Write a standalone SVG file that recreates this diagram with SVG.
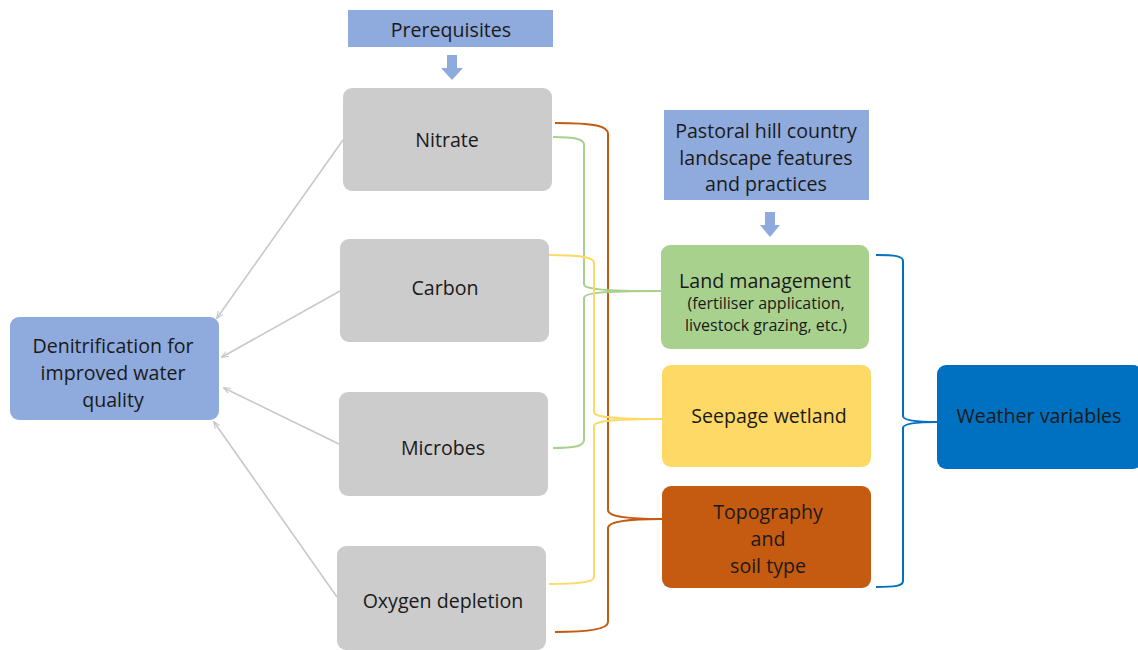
<svg xmlns="http://www.w3.org/2000/svg" width="1138" height="650" viewBox="0 0 1138 650">
<defs>
<style>
text{font-family:"Open Sans","Liberation Sans",sans-serif;fill:#1a1a1a;text-anchor:middle;dominant-baseline:central}
.t{font-size:19.6px}
.s{font-size:16px}
.gray{fill:#cccccc}
.blue{fill:#8faadc}
.conn{fill:none;stroke-width:2}
.g{stroke:#c8c8c8;stroke-width:1.6;fill:none;marker-end:url(#ah)}
</style>
<marker id="ah" viewBox="0 0 10 10" refX="9" refY="5" markerWidth="7" markerHeight="7" orient="auto" markerUnits="userSpaceOnUse">
<path d="M0,1 L10,5 L0,9" fill="none" stroke="#c8c8c8" stroke-width="1.6"/>
</marker>
</defs>
<rect width="1138" height="650" fill="#ffffff"/>

<g id="prerequisites">
<rect x="348" y="10" width="205" height="37" class="blue"/>
<text x="451" y="29" class="t">Prerequisites</text>
<path d="M447,55 H457 V68 H463 L452,80 L441,68 H447 Z" class="blue"/>
</g>

<g id="nitrate">
<rect x="343" y="88" width="209" height="103" rx="9" class="gray"/>
<text x="447" y="139" class="t">Nitrate</text>
</g>
<g id="carbon">
<rect x="340" y="239" width="209" height="103" rx="9" class="gray"/>
<text x="445" y="287" class="t">Carbon</text>
</g>
<g id="microbes">
<rect x="339" y="392" width="209" height="104" rx="9" class="gray"/>
<text x="443" y="447" class="t">Microbes</text>
</g>
<g id="oxygen">
<rect x="337" y="546" width="209" height="104" rx="9" class="gray"/>
<text x="443" y="600" class="t">Oxygen depletion</text>
</g>

<g id="denitrification">
<rect x="10" y="317" width="209" height="103" rx="9" class="blue"/>
<text x="113" y="345" class="t">Denitrification for</text>
<text x="113" y="372" class="t">improved water</text>
<text x="113" y="399" class="t">quality</text>
</g>

<g id="pastoral">
<rect x="664" y="110" width="205" height="90" class="blue"/>
<text x="766" y="130" class="t">Pastoral hill country</text>
<text x="766" y="157" class="t">landscape features</text>
<text x="766" y="183" class="t">and practices</text>
<path d="M765,212 H775 V225 H780 L770,237 L760,225 H765 Z" class="blue"/>
</g>

<g id="land">
<rect x="661" y="245" width="208" height="104" rx="9" fill="#a9d18e"/>
<text x="765" y="280" class="t">Land management</text>
<text x="766" y="303" class="s">(fertiliser application,</text>
<text x="766" y="325" class="s">livestock grazing, etc.)</text>
</g>
<g id="seepage">
<rect x="662" y="365" width="209" height="102" rx="9" fill="#ffd966"/>
<text x="769" y="415" class="t">Seepage wetland</text>
</g>
<g id="topography">
<rect x="662" y="486" width="209" height="102" rx="9" fill="#c55a11"/>
<text x="768" y="511" class="t">Topography</text>
<text x="768" y="538" class="t">and</text>
<text x="768" y="565" class="t">soil type</text>
</g>
<g id="weather">
<rect x="937" y="365" width="205" height="104" rx="9" fill="#0070c0"/>
<text x="1039" y="415" class="t">Weather variables</text>
</g>

<g id="connectors">
<path class="g" d="M343,140 L217,318"/>
<path class="g" d="M340,291 L222,357"/>
<path class="g" d="M339,444 L224,388"/>
<path class="g" d="M337,597 L214,422"/>

<path class="conn" stroke="#c55a11" d="M555,123 C595,123 608,126 608,134 L608,510 C608,517 630,519 662,519 C630,519 608,521 608,528 L608,622 C608,629 590,632 555,632"/>
<path class="conn" stroke="#a9d18e" d="M553,137 C575,137 584,139 584,145 L584,284 C584,289 600,291 661,291 C600,291 584,293 584,298 L584,440 C584,446 575,448 553,448"/>
<path class="conn" stroke="#ffd966" d="M549,255 C580,255 594,257 594,263 L594,412 C594,417 610,419 662,419 C610,419 594,421 594,426 L594,577 C594,582 580,584 549,584"/>
<path class="conn" stroke="#0070c0" d="M876,255 C895,255 903,256 903,261 L903,416 C903,420 915,422 937,422 C915,422 903,424 903,428 L903,581 C903,586 895,587 876,587"/>
</g>
</svg>
